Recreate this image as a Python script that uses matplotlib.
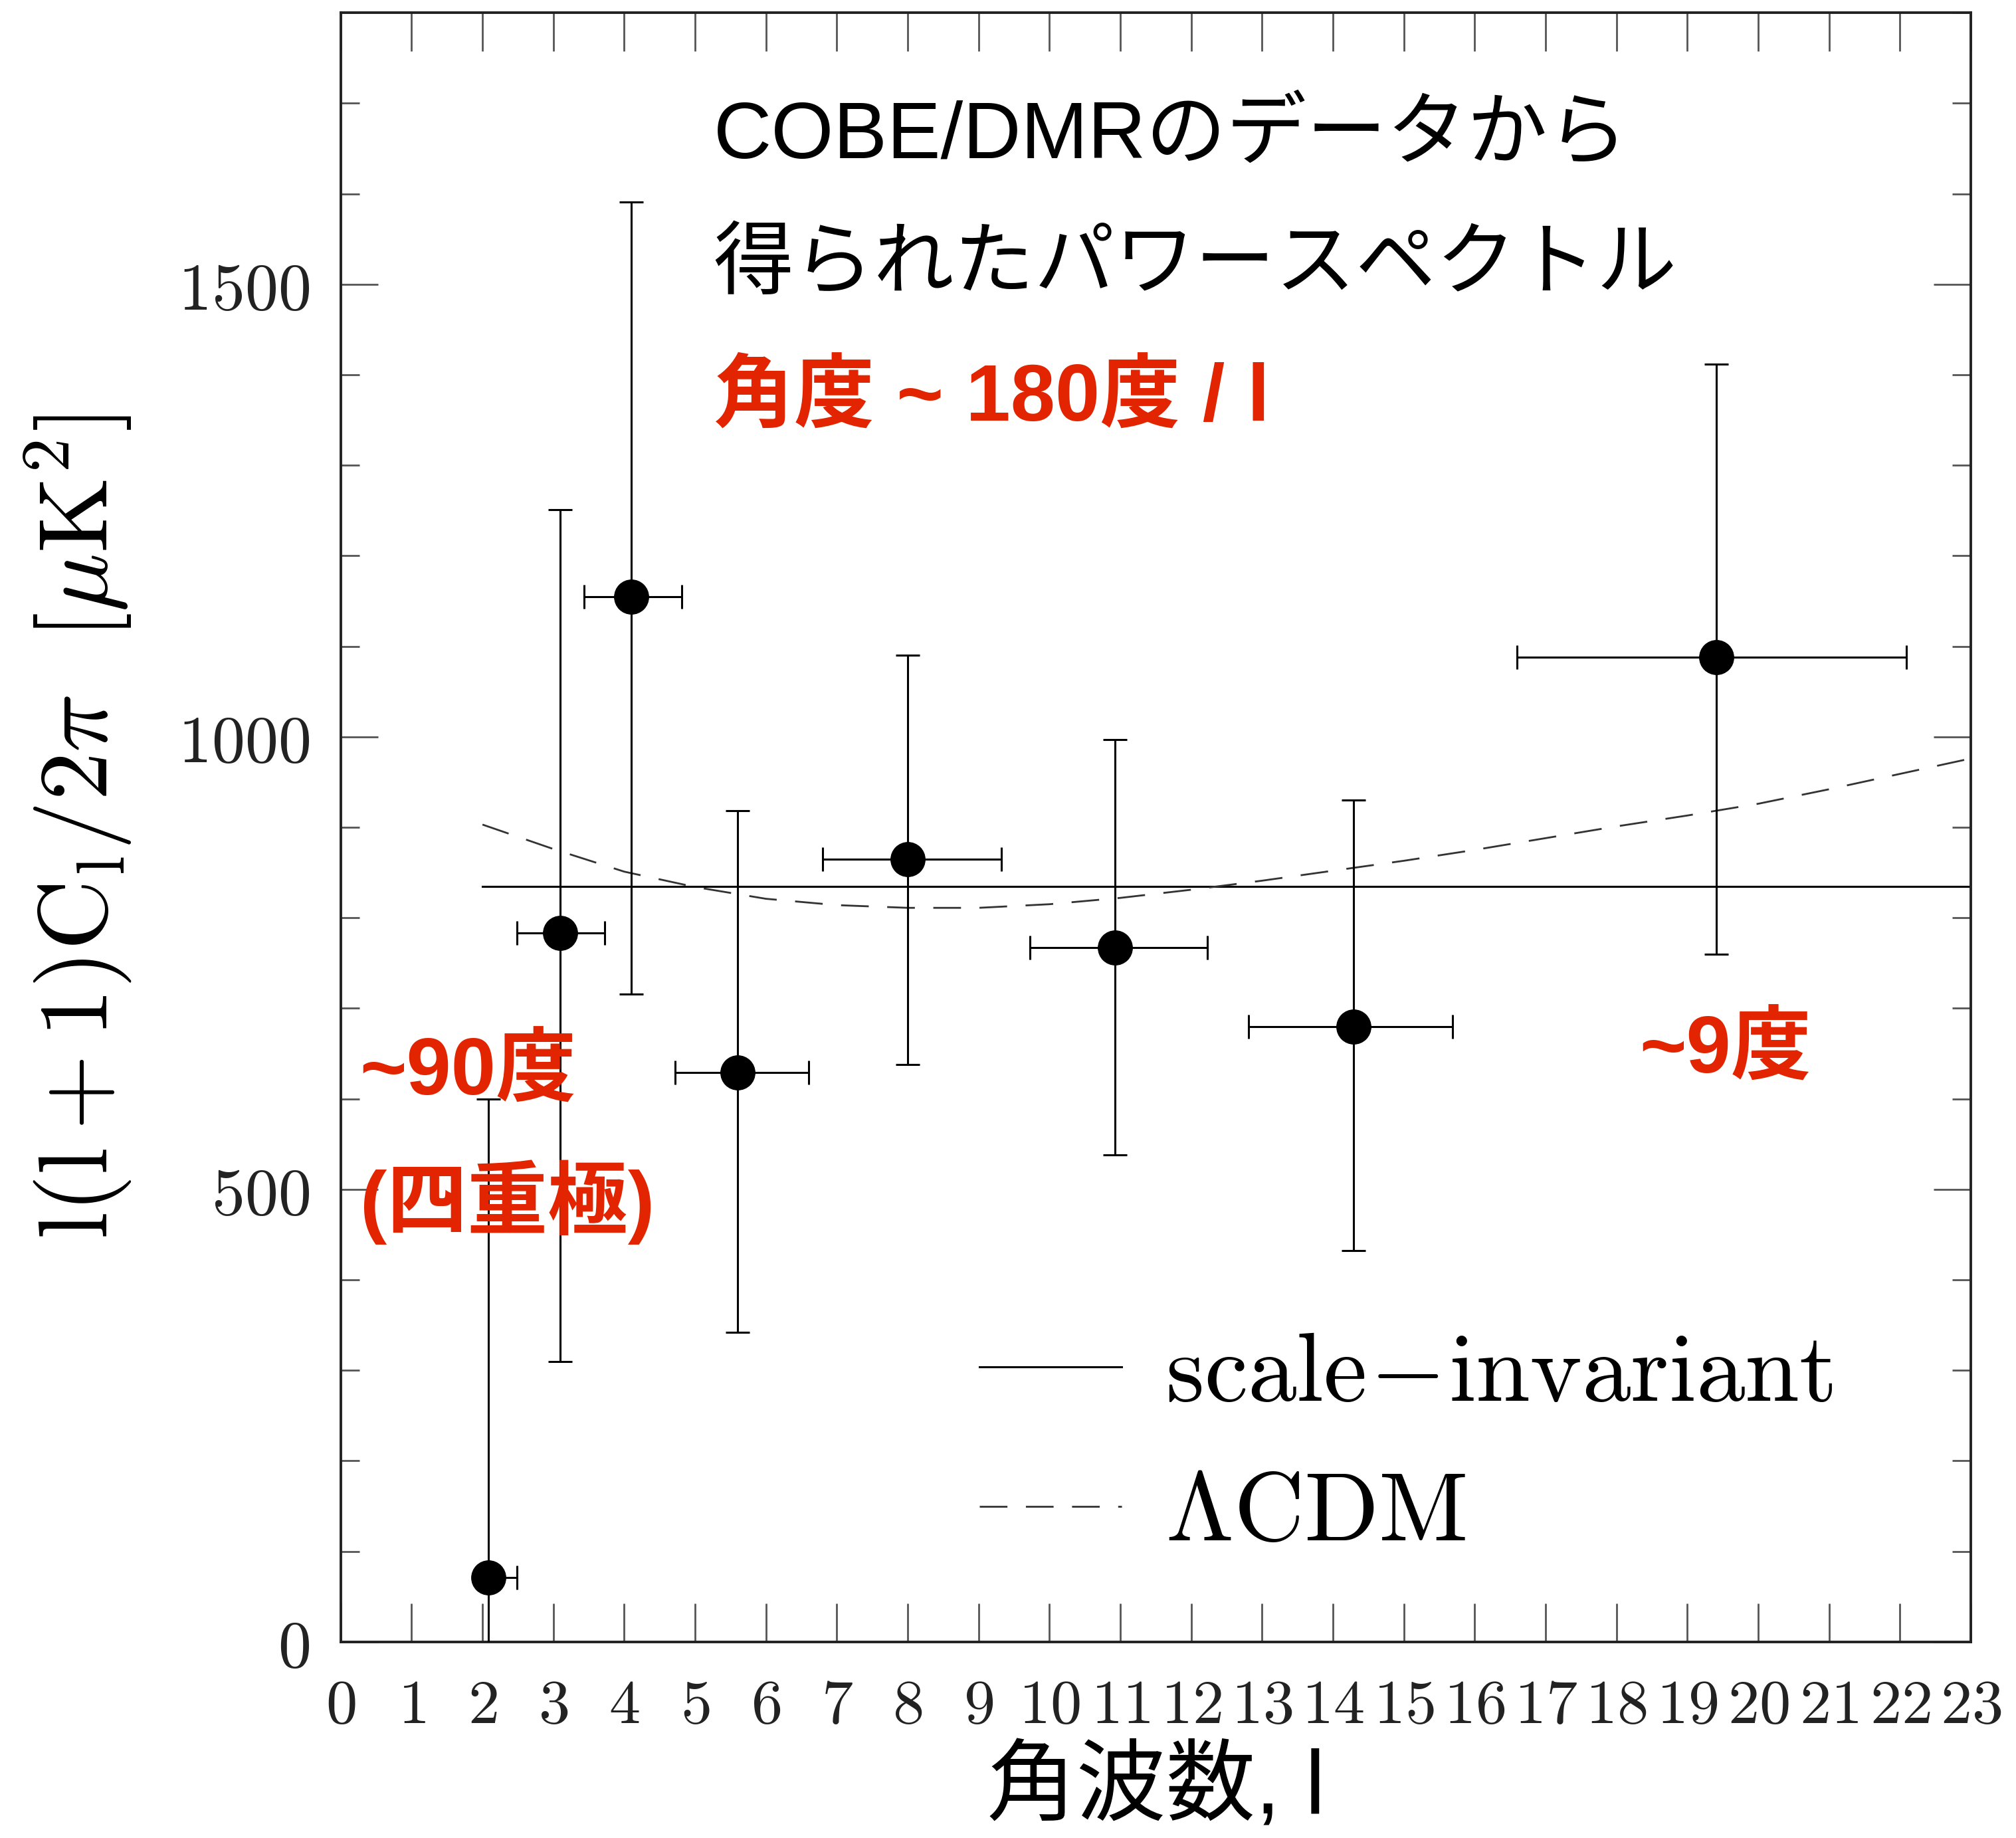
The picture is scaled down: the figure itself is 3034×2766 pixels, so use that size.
import matplotlib
matplotlib.use("Agg")
import matplotlib.pyplot as plt
from matplotlib.ticker import FixedLocator, MultipleLocator

# ---------------- data ----------------
l_bin = [2.08, 3.10, 4.10, 5.60, 8.00, 10.92, 14.29, 19.41]
l_lo = [2.00, 2.49, 3.43, 4.72, 6.80, 9.72, 12.81, 16.60]
l_hi = [2.49, 3.72, 4.81, 6.60, 9.32, 12.23, 15.69, 22.09]
power = [71, 783, 1155, 629, 865, 767, 680, 1088]
power_lo = [-50, 310, 716, 342, 638, 538, 432, 760]
power_hi = [600, 1251, 1591, 918, 1090, 997, 930, 1412]

si_l = [2, 23]
si_power = [835, 835]

lcdm_l = [2, 3, 4, 5, 6, 7, 8, 9, 10, 11, 12, 13, 14, 15, 16, 17, 18, 19, 20, 21, 22, 23]
lcdm_power = [903, 876, 851, 834, 821, 814, 811, 811, 815, 822, 831, 841, 852, 863,
              875, 888, 901, 913, 926, 942, 959, 976]

x_ticks = list(range(0, 24))
y_major = [0, 500, 1000, 1500]

RED = "#E22400"
plt.rcParams["mathtext.fontset"] = "cm"
JP = ["Liberation Sans", "Noto Sans CJK JP"]

fig = plt.figure(figsize=(30.34, 27.66), dpi=100)
ax = fig.add_axes([0.169, 0.1067, 0.9776 - 0.169, 0.9931 - 0.1067])

xerr = [[c - lo for c, lo in zip(l_bin, l_lo)], [hi - c for c, hi in zip(l_bin, l_hi)]]
yerr = [[p - lo for p, lo in zip(power, power_lo)], [hi - p for p, hi in zip(power, power_hi)]]

ax.errorbar(l_bin, power, xerr=xerr, yerr=yerr, fmt="o", color="black",
            markersize=37, elinewidth=2.2, capsize=13, capthick=2.2, zorder=3)

ax.plot(si_l, si_power, color="black", lw=2.2,
        label=r"$\mathrm{scale}\!-\!\mathrm{invariant}$")
ax.plot(lcdm_l, lcdm_power, color="#333333", lw=2.0, linestyle=(0, (15, 10)),
        label=r"$\Lambda\mathrm{CDM}$")

ax.set_xlim(0, 23)
ax.set_ylim(0, 1800)

ax.xaxis.set_major_locator(FixedLocator(x_ticks))
ax.set_xticklabels([r"$\mathrm{%d}$" % v for v in x_ticks])
ax.yaxis.set_major_locator(FixedLocator(y_major))
ax.set_yticklabels([r"$\mathrm{%d}$" % v for v in y_major])
ax.yaxis.set_minor_locator(MultipleLocator(100))

ax.tick_params(axis="x", which="major", direction="in", length=42, width=2.0,
               color="#555555", labelsize=68, pad=36, top=True, labelcolor="#222222")
ax.tick_params(axis="y", which="major", direction="in", length=40, width=2.0,
               color="#555555", labelsize=72, pad=34, right=True, labelcolor="#222222")
ax.tick_params(axis="y", which="minor", direction="in", length=20, width=2.0,
               color="#555555", right=True)
for s in ax.spines.values():
    s.set_linewidth(2.8)
    s.set_color("#222222")

ax.set_ylabel(r"$\mathrm{l(l+1)C_l/2}\pi\ \ \mathrm{[}\mu\mathrm{K^2]}$", fontsize=106, labelpad=48)
ax.set_xlabel("角波数, l", fontsize=97, family=JP, labelpad=10)

leg = ax.legend(loc="lower left", bbox_to_anchor=(0.392, 0.05), frameon=False,
                fontsize=106, handlelength=1.45, handletextpad=0.45, labelspacing=0.47,
                borderpad=0, borderaxespad=0)

ax.text(5.26, 1662, "COBE/DMRのデータから", fontsize=87, family=JP, va="center", ha="left")
ax.text(5.26, 1519, "得られたパワースペクトル", fontsize=87, family=JP, va="center", ha="left")
ax.text(5.26, 1373, "角度 ~ 180度 / l", fontsize=87, family=JP, fontweight="bold",
        color=RED, va="center", ha="left")
ax.text(0.27, 628, "~90度", fontsize=87, family=JP, fontweight="bold",
        color=RED, va="center", ha="left")
ax.text(0.27, 486, "(四重極)", fontsize=87, family=JP, fontweight="bold",
        color=RED, va="center", ha="left")
ax.text(18.32, 652, "~9度", fontsize=87, family=JP, fontweight="bold",
        color=RED, va="center", ha="left")

fig.savefig("out.png", dpi=100)
